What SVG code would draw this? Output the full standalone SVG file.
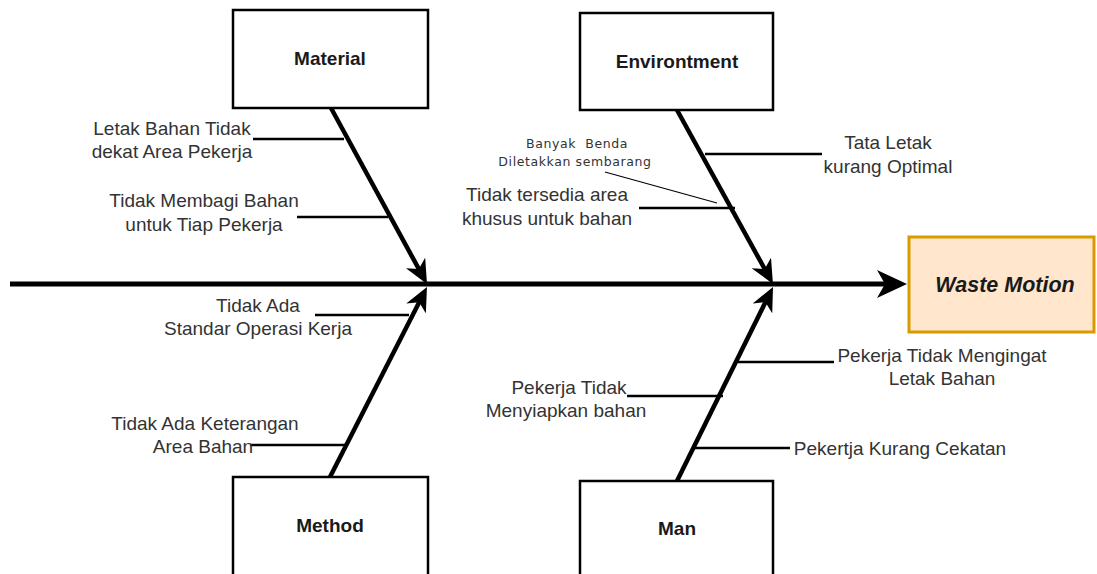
<svg xmlns="http://www.w3.org/2000/svg" width="1097" height="574" viewBox="0 0 1097 574">
<style>
.box{fill:#fff;stroke:#000;stroke-width:2.5}
.title{font-family:"Liberation Sans",Arial,sans-serif;font-size:19px;font-weight:bold;fill:#1a1a1a;text-anchor:middle}
.lbl{font-family:"Liberation Sans",Arial,sans-serif;font-size:19px;fill:#333;text-anchor:middle}
.small{font-family:"DejaVu Sans",sans-serif;font-size:12.5px;letter-spacing:0.6px;fill:#333;text-anchor:middle;white-space:pre}
.spine{stroke:#000;stroke-width:4.5;fill:none}
.branch{stroke:#000;stroke-width:2.5;fill:none}
.thin{stroke:#000;stroke-width:1.2;fill:none}
</style>
<defs>
<marker id="ah" markerUnits="userSpaceOnUse" markerWidth="24" markerHeight="22" viewBox="0 0 24 22" refX="10" refY="11" orient="auto"><path d="M0,0 L24,11 L0,22 L7,11 Z" fill="#000"/></marker>
<marker id="ahm" markerUnits="userSpaceOnUse" markerWidth="30" markerHeight="28" viewBox="0 0 30 28" refX="12" refY="14" orient="auto"><path d="M0,0 L30,14 L0,28 L8,14 Z" fill="#000"/></marker>
</defs>
<g id="connectors">
<line class="spine" x1="10" y1="284" x2="889" y2="284" marker-end="url(#ahm)" style="stroke-width:5"/>
<line class="spine" x1="331" y1="108" x2="420.3" y2="271.7" marker-end="url(#ah)"/>
<line class="spine" x1="677" y1="110" x2="766.2" y2="271.7" marker-end="url(#ah)"/>
<line class="spine" x1="330" y1="477" x2="420.6" y2="299.5" marker-end="url(#ah)"/>
<line class="spine" x1="677" y1="481" x2="766.8" y2="299.5" marker-end="url(#ah)"/>
<line class="branch" x1="253" y1="139" x2="344" y2="139"/>
<line class="branch" x1="297" y1="217" x2="388" y2="217"/>
<line class="branch" x1="705" y1="154" x2="822" y2="154"/>
<line class="branch" x1="639" y1="208" x2="735" y2="208"/>
<line class="thin" x1="605" y1="172" x2="717" y2="203"/>
<line class="branch" x1="315" y1="315" x2="409" y2="315"/>
<line class="branch" x1="250" y1="445" x2="346" y2="445"/>
<line class="branch" x1="738" y1="362" x2="834" y2="362"/>
<line class="branch" x1="627" y1="396" x2="723" y2="396"/>
<line class="branch" x1="694" y1="448" x2="790" y2="448"/>
</g>
<g id="material">
<rect class="box" x="233" y="10" width="195" height="98"/>
<text class="title" x="330" y="65">Material</text>
</g>
<g id="environment">
<rect class="box" x="580" y="13" width="193" height="97"/>
<text class="title" x="677" y="68">Environtment</text>
</g>
<g id="method">
<rect class="box" x="233" y="477" width="195" height="100"/>
<text class="title" x="330" y="532">Method</text>
</g>
<g id="man">
<rect class="box" x="580" y="481" width="193" height="100"/>
<text class="title" x="677" y="535">Man</text>
</g>
<g id="waste-motion">
<rect x="909" y="237" width="185" height="95" fill="#ffe6cc" stroke="#d79b00" stroke-width="3"/>
<text x="1005" y="292" font-family="Liberation Sans, Arial, sans-serif" font-size="21.5" font-weight="bold" font-style="italic" fill="#1a1a1a" text-anchor="middle">Waste Motion</text>
</g>
<g id="labels">
<text class="lbl" x="172" y="135">Letak Bahan Tidak</text>
<text class="lbl" x="172" y="158">dekat Area Pekerja</text>
<text class="lbl" x="204" y="207">Tidak Membagi Bahan</text>
<text class="lbl" x="204" y="231">untuk Tiap Pekerja</text>
<text class="small" x="577" y="148">Banyak  Benda</text>
<text class="small" x="575" y="166">Diletakkan sembarang</text>
<text class="lbl" x="547" y="201">Tidak tersedia area</text>
<text class="lbl" x="547" y="225">khusus untuk bahan</text>
<text class="lbl" x="888" y="149">Tata Letak</text>
<text class="lbl" x="888" y="173">kurang Optimal</text>
<text class="lbl" x="258" y="312">Tidak Ada</text>
<text class="lbl" x="258" y="335">Standar Operasi Kerja</text>
<text class="lbl" x="205" y="430">Tidak Ada Keterangan</text>
<text class="lbl" x="203" y="453">Area Bahan</text>
<text class="lbl" x="942" y="362">Pekerja Tidak Mengingat</text>
<text class="lbl" x="942" y="385">Letak Bahan</text>
<text class="lbl" x="569" y="394">Pekerja Tidak</text>
<text class="lbl" x="566" y="417">Menyiapkan bahan</text>
<text class="lbl" x="900" y="455">Pekertja Kurang Cekatan</text>
</g>
</svg>
